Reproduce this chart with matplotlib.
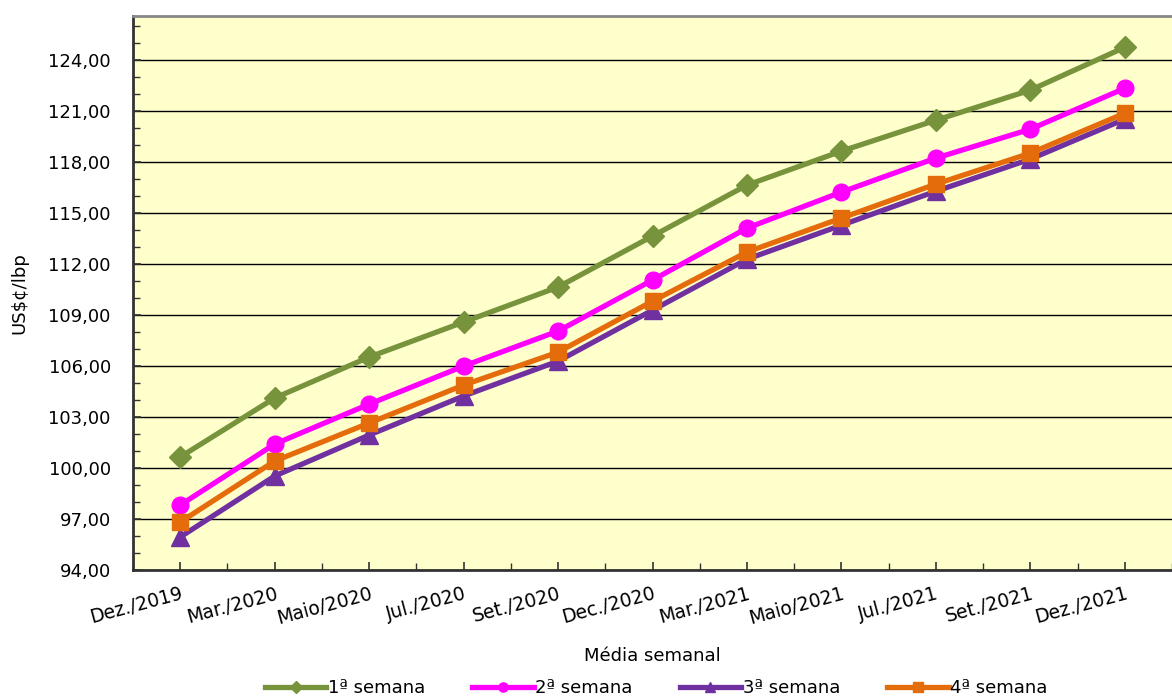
import numpy as np
import matplotlib
matplotlib.use("Agg")
import matplotlib.pyplot as plt
from matplotlib.ticker import FixedLocator, FuncFormatter

meses = ['Dez./2019', 'Mar./2020', 'Maio/2020', 'Jul./2020', 'Set./2020', 'Dec./2020',
         'Mar./2021', 'Maio/2021', 'Jul./2021', 'Set./2021', 'Dez./2021']

semana1 = [100.65, 104.12, 106.53, 108.59, 110.65, 113.65, 116.65, 118.65, 120.47, 122.24, 124.76]
semana2 = [97.82, 101.41, 103.76, 106.00, 108.06, 111.06, 114.12, 116.24, 118.24, 119.94, 122.35]
semana3 = [95.94, 99.53, 101.94, 104.24, 106.29, 109.29, 112.29, 114.29, 116.29, 118.18, 120.53]
semana4 = [96.82, 100.41, 102.65, 104.88, 106.82, 109.82, 112.71, 114.71, 116.71, 118.53, 120.88]

nomes = ['1ª semana', '2ª semana', '3ª semana', '4ª semana']
cores = ['#77933C', '#FF00FF', '#7030A0', '#E46C0A']
marcadores = ['D', 'o', '^', 's']
tamanhos = [11, 12, 13, 12]

plt.rcParams['font.family'] = ['DejaVu Sans']

fig = plt.figure(figsize=(11.72, 6.98), dpi=100)
ax = fig.add_axes([0.1135, 0.1834, 0.8865, 0.7936])
ax.set_facecolor('#FFFFCC')

x = np.arange(len(meses))
for serie, nome, cor, m, ms in zip([semana1, semana2, semana3, semana4], nomes, cores, marcadores, tamanhos):
    ax.plot(x, serie, color=cor, lw=3.8, marker=m, markersize=ms, label=nome, zorder=3)

ax.set_ylim(94, 126.6)
ax.set_xlim(-0.5, 10.37)
ax.yaxis.set_major_locator(FixedLocator(np.arange(94, 126, 3)))
ax.yaxis.set_minor_locator(FixedLocator(np.arange(94, 127, 1)))
ax.yaxis.set_major_formatter(FuncFormatter(lambda v, p: f'{v:.2f}'.replace('.', ',')))
ax.grid(axis='y', which='major', color='black', lw=1)
ax.set_axisbelow(True)

ax.set_xticks(x)
ax.set_xticklabels(meses, rotation=15, ha='right', rotation_mode='anchor')
ax.set_xticks(np.arange(-0.5, 10.6, 1.0), minor=True)
ax.tick_params(axis='both', which='both', direction='in', labelsize=13, color='#333333')
ax.tick_params(axis='x', labelsize=13.5)
ax.tick_params(axis='both', which='major', length=6, width=1.2)
ax.tick_params(axis='both', which='minor', length=5, width=1)
ax.tick_params(axis='x', pad=10)
ax.tick_params(axis='y', pad=16)

for s in ['left', 'bottom']:
    ax.spines[s].set_color('#333333')
    ax.spines[s].set_linewidth(2)
ax.spines['top'].set_color('#888888')
ax.spines['top'].set_linewidth(2)
ax.spines['right'].set_visible(False)

ax.set_ylabel('US$¢/lbp', fontsize=13, labelpad=14)
ax.set_xlabel('Média semanal', fontsize=13, labelpad=14)

fig.legend(loc='lower center', ncol=4, frameon=False, fontsize=13,
           bbox_to_anchor=(0.56, -0.022), handlelength=3.4, columnspacing=2.6,
           handletextpad=0.1, markerscale=0.55)

fig.savefig('out.png', dpi=100)
